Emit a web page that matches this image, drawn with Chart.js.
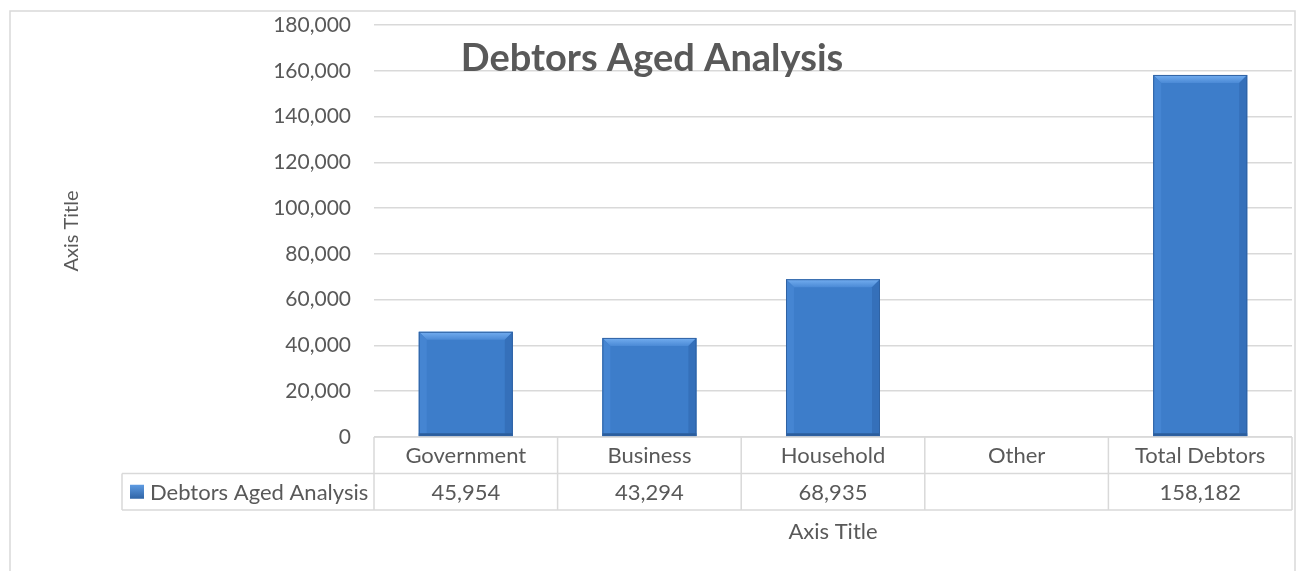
<!DOCTYPE html>
<html lang="en">
<head>
<meta charset="UTF-8">
<title>Debtors Aged Analysis</title>
<script src="https://cdn.jsdelivr.net/npm/chart.js@4.4.0/dist/chart.umd.min.js"></script>
<style>
    html, body { margin: 0; padding: 0; background: #fff; }
    .chart-container { position: relative; width: 1300px; height: 571px; }
</style>
</head>
<body>

<div class="chart-container">
    <canvas id="chart" width="1300" height="571"></canvas>
</div>

<script>
// data
var categories = ['Government', 'Business', 'Household', 'Other', 'Total Debtors'];
var values = [45954, 43294, 68935, null, 158182];
var seriesName = 'Debtors Aged Analysis';
var yMin = 0, yMax = 180000, yStep = 20000;

var textColor = '#595959';
var lineColor = '#d9d9d9';

function fmt(v) {
    return v == null ? '' : Number(v).toLocaleString('en-US');
}

// outer frame + white background
var framePlugin = {
    id: 'frame',
    beforeDraw: function(chart) {
        var c = chart.ctx;
        c.save();
        c.fillStyle = '#fff';
        c.fillRect(0, 0, chart.width, chart.height);
        c.strokeStyle = lineColor;
        c.lineWidth = 1.5;
        c.strokeRect(10, 11, 1285, 620);
        c.restore();
    }
};

// excel-ish bevel on top of each bar
var bevelPlugin = {
    id: 'bevel',
    afterDatasetsDraw: function(chart) {
        var c = chart.ctx;
        var meta = chart.getDatasetMeta(0);
        meta.data.forEach(function(bar, i) {
            if (values[i] == null) return;
            var p = bar.getProps(['x', 'y', 'base', 'width'], true);
            var l = p.x - p.width / 2, r = p.x + p.width / 2, t = p.y, b = p.base;
            var s = 8;
            c.save();
            // top
            var g = c.createLinearGradient(0, t, 0, t + s);
            g.addColorStop(0, '#74aef0');
            g.addColorStop(1, '#4b8ad6');
            c.fillStyle = g;
            c.beginPath();
            c.moveTo(l, t); c.lineTo(r, t); c.lineTo(r - s, t + s); c.lineTo(l + s, t + s);
            c.closePath(); c.fill();
            // left
            c.fillStyle = '#4585d2';
            c.beginPath();
            c.moveTo(l, t); c.lineTo(l + s, t + s); c.lineTo(l + s, b - 3); c.lineTo(l, b);
            c.closePath(); c.fill();
            // right
            c.fillStyle = '#3570ba';
            c.beginPath();
            c.moveTo(r, t); c.lineTo(r - s, t + s); c.lineTo(r - s, b - 3); c.lineTo(r, b);
            c.closePath(); c.fill();
            // bottom
            c.fillStyle = '#2b5d9c';
            c.fillRect(l, b - 3, p.width, 3);
            // outline
            c.strokeStyle = '#2f62a3';
            c.lineWidth = 1;
            c.strokeRect(l + 0.5, t + 0.5, p.width - 1, b - t - 1);
            c.restore();
        });
    }
};

// title, data table and x axis title
var tablePlugin = {
    id: 'table',
    afterDraw: function(chart) {
        var c = chart.ctx;
        var xs = chart.scales.x;
        var area = chart.chartArea;
        var n = categories.length;
        var cw = (xs.right - xs.left) / n;
        var top = area.bottom;
        var rowH = 36.5;
        var labelLeft = 122;

        c.save();
        c.strokeStyle = lineColor;
        c.lineWidth = 1.5;

        c.beginPath();
        c.moveTo(xs.left, top); c.lineTo(xs.right, top);
        c.moveTo(labelLeft, top + rowH); c.lineTo(xs.right, top + rowH);
        c.moveTo(labelLeft, top + 2 * rowH); c.lineTo(xs.right, top + 2 * rowH);
        for (var i = 0; i <= n; i++) {
            var x = xs.left + i * cw;
            c.moveTo(x, top); c.lineTo(x, top + 2 * rowH);
        }
        c.moveTo(labelLeft, top + rowH); c.lineTo(labelLeft, top + 2 * rowH);
        c.stroke();

        c.fillStyle = textColor;
        c.font = '22px Lato';
        c.textAlign = 'center';
        c.textBaseline = 'middle';
        categories.forEach(function(cat, i) {
            var cx = xs.getPixelForValue(i);
            c.fillText(cat, cx, top + rowH / 2 + 1);
            c.fillText(fmt(values[i]), cx, top + rowH * 1.5 + 1);
        });

        // legend key + series name
        var ky = top + rowH * 1.5 - 7;
        var kg = c.createLinearGradient(0, ky, 0, ky + 14);
        kg.addColorStop(0, '#5e9be2');
        kg.addColorStop(1, '#2f64a6');
        c.fillStyle = kg;
        c.fillRect(130, ky, 14, 14);
        c.fillStyle = textColor;
        c.textAlign = 'left';
        c.fillText(seriesName, 150, top + rowH * 1.5 + 1);

        // x axis title
        c.textAlign = 'center';
        c.fillText('Axis Title', (xs.left + xs.right) / 2, 532);

        // chart title
        c.font = 'bold 38px Lato';
        c.textBaseline = 'alphabetic';
        c.fillText(seriesName, 652, 71);
        c.restore();
    }
};

var ctx = document.getElementById('chart').getContext('2d');

var chart = new Chart(ctx, {
    type: 'bar',
    data: {
        labels: categories,
        datasets: [{
            label: seriesName,
            data: values,
            backgroundColor: '#3d7dca',
            borderWidth: 0,
            categoryPercentage: 1,
            barPercentage: 0.512
        }]
    },
    options: {
        responsive: false,
        animation: false,
        layout: {
            padding: { top: 25, right: 8, bottom: 134, left: 0 }
        },
        plugins: {
            legend: { display: false },
            tooltip: { enabled: false },
            title: { display: false }
        },
        scales: {
            x: {
                display: false
            },
            y: {
                min: yMin,
                max: yMax,
                afterFit: function(scale) {
                    scale.width = 374;
                    // tick padding would otherwise push the plot top down
                    scale.paddingTop = 0;
                    scale.paddingBottom = 0;
                },
                ticks: {
                    stepSize: yStep,
                    padding: 23,
                    color: textColor,
                    font: { family: 'Lato', size: 21 },
                    callback: function(v) { return fmt(v); }
                },
                grid: {
                    color: lineColor,
                    lineWidth: 1.5,
                    drawTicks: false
                },
                border: { display: false },
                title: {
                    display: true,
                    text: 'Axis Title',
                    color: textColor,
                    font: { family: 'Lato', size: 20 },
                    padding: { top: 60, bottom: 0 }
                }
            }
        }
    },
    plugins: [framePlugin, bevelPlugin, tablePlugin]
});
</script>

</body>
</html>
